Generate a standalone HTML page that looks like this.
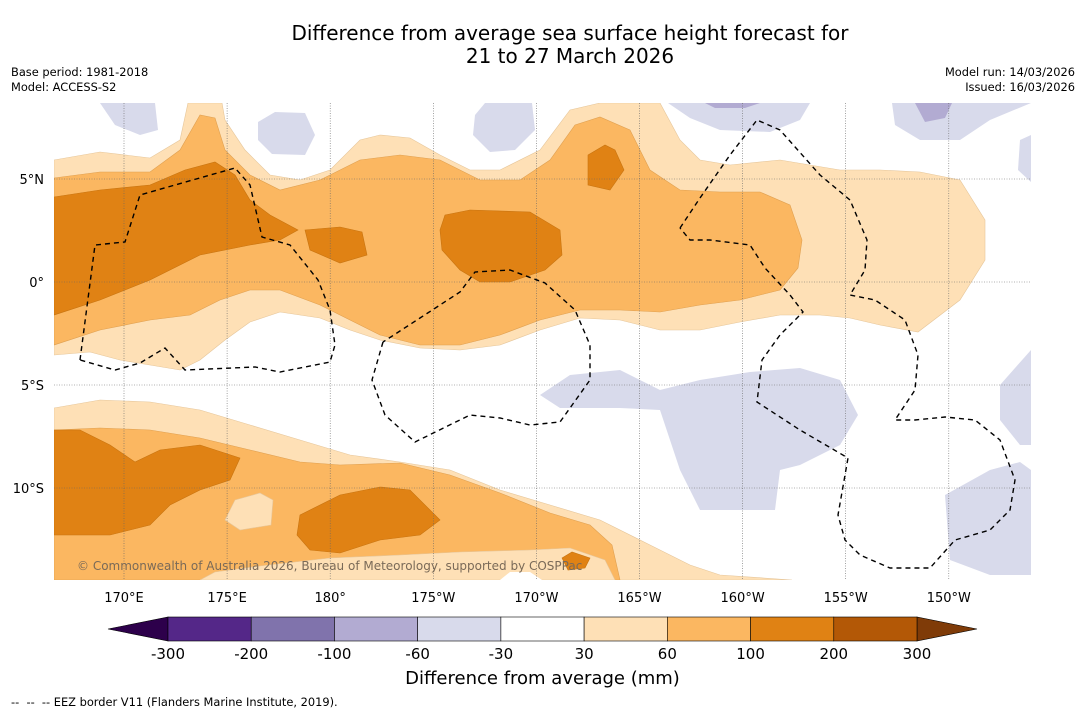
<!DOCTYPE html>
<html><head><meta charset="utf-8">
<style>
body{margin:0;background:#fff;font-family:"Liberation Sans","DejaVu Sans",sans-serif;}
#wrap{position:relative;width:1085px;height:713px;overflow:hidden;background:#fff}
.t{position:absolute;white-space:nowrap;color:#000}
</style></head><body>
<div id="wrap">
<div class="t" style="left:0;width:1140px;text-align:center;top:22px;font-size:20px;line-height:23px;font-family:'DejaVu Sans',sans-serif">Difference from average sea surface height forecast for<br>21 to 27 March 2026</div>
<div class="t" style="left:11px;top:65px;font-size:11.4px;line-height:15px;font-family:'DejaVu Sans',sans-serif">Base period: 1981-2018<br>Model: ACCESS-S2</div>
<div class="t" style="right:10px;top:65px;font-size:11.4px;line-height:15px;text-align:right;font-family:'DejaVu Sans',sans-serif">Model run: 14/03/2026<br>Issued: 16/03/2026</div>
<svg id="map" width="1085" height="713" style="position:absolute;left:0;top:0"></svg>
<div class="t" style="left:0;width:1085px;text-align:center;top:668px;font-size:18px;font-family:'DejaVu Sans',sans-serif">Difference from average (mm)</div>
<div class="t" style="left:11px;top:695px;font-size:11.4px;font-family:'DejaVu Sans',sans-serif">-- &nbsp;-- &nbsp;-- EEZ border V11 (Flanders Marine Institute, 2019).</div>
</div>
<script>
const lonTicks=["170°E","175°E","180°","175°W","170°W","165°W","160°W","155°W","150°W"];
const lonVals=[170,175,180,185,190,195,200,205,210];
const latTicks=["5°N","0°","5°S","10°S"];
const latVals=[5,0,-5,-10];
const cbLevels=["-300","-200","-100","-60","-30","30","60","100","200","300"];
const cbColors=["#542788","#8073ac","#b2abd2","#d8daeb","#ffffff","#fee0b6","#fbb761","#e08214","#b35806"];
const X0=54,X1=1031,Y0=103,Y1=580;
function x(lon){return 124+(lon-170)*20.62;}
function y(lat){return 282-lat*20.6;}
// contour polygons (map pixel space)
const lightOrangeN=[[54,160],[100,152],[150,158],[180,140],[188,103],[222,103],[225,120],[245,150],[270,175],[300,180],[330,170],[360,140],[380,135],[410,138],[440,155],[470,170],[500,170],[540,150],[570,110],[600,103],[660,103],[680,140],[700,160],[730,165],[780,160],[840,170],[880,170],[920,172],[960,180],[985,220],[985,260],[960,300],[918,332],[880,325],[850,318],[820,315],[780,315],[740,322],[700,330],[660,330],[620,320],[580,318],[540,330],[500,345],[460,350],[420,348],[380,340],[350,330],[320,318],[280,312],[250,322],[225,340],[200,360],[180,370],[150,365],[120,360],[90,352],[54,355]];
const midOrangeN=[[54,178],[100,172],[150,172],[180,150],[200,115],[215,118],[225,150],[250,175],[280,190],[320,180],[360,160],[400,155],[440,160],[480,180],[520,180],[550,160],[575,125],[600,117],[630,130],[650,170],[680,190],[720,192],[760,192],[790,205],[802,240],[798,268],[780,290],[740,300],[700,305],[660,312],[620,310],[580,310],[540,320],[500,335],[460,345],[420,345],[380,335],[350,320],[320,305],[280,290],[250,290],[220,300],[190,315],[150,320],[100,330],[54,345]];
const darkN=[[[54,197],[100,190],[150,185],[185,170],[215,162],[235,175],[250,200],[270,215],[298,230],[280,240],[250,245],[200,255],[150,280],[100,300],[54,315]],
[[305,230],[340,227],[362,232],[367,255],[340,263],[310,250]],
[[445,215],[470,210],[530,212],[560,230],[562,255],[545,270],[510,282],[480,282],[460,270],[442,250],[440,230]],
[[588,155],[605,145],[615,150],[624,170],[610,190],[588,185]]];
const lightOrangeS=[[54,408],[100,400],[150,402],[200,410],[250,425],[300,440],[350,455],[400,462],[450,470],[500,490],[550,505],[600,520],[650,545],[690,565],[720,575],[792,580],[54,580]];
const midOrangeS=[[54,430],[100,428],[150,430],[200,438],[250,450],[300,462],[340,465],[400,463],[450,475],[500,493],[550,513],[590,525],[612,545],[620,580],[54,580]];
const lightBottom=[[200,580],[215,572],[260,566],[330,558],[400,555],[460,552],[530,550],[570,548],[605,560],[615,580]];
const darkS=[[[54,430],[80,430],[110,445],[135,462],[160,450],[200,445],[240,458],[230,480],[200,490],[170,505],[150,525],[110,535],[80,535],[54,535]],
[[300,515],[340,495],[380,487],[410,490],[440,520],[420,535],[380,540],[340,553],[310,550],[297,535]],
[[562,558],[572,552],[590,558],[585,568],[568,570]]];
const whiteS=[[[500,580],[510,572],[530,572],[542,580]]];
const lightS2=[[[225,520],[235,500],[260,493],[273,500],[271,525],[240,530]]];
const purpleL=[[[100,103],[155,103],[158,130],[140,135],[115,125]],
[[258,122],[275,112],[305,113],[315,135],[305,155],[272,154],[258,140]],
[[475,115],[485,103],[532,103],[535,130],[515,150],[490,152],[473,135]],
[[668,103],[810,103],[800,120],[770,132],[720,130],[690,118]],
[[892,103],[1031,103],[990,120],[960,140],[920,140],[895,125]],
[[1020,140],[1031,135],[1031,182],[1018,170]],
[[540,395],[570,375],[620,370],[660,390],[700,380],[750,372],[800,368],[840,380],[858,415],[840,445],[800,465],[780,470],[775,510],[700,510],[680,470],[660,410],[620,408],[560,408]],
[[1000,385],[1031,350],[1031,445],[1020,445],[1000,420]],
[[945,495],[990,470],[1020,462],[1031,470],[1031,575],[990,575],[950,560]]];
const purpleM=[[[705,103],[760,103],[745,108],[715,108]],[[915,103],[952,103],[945,118],[925,122]]];
const eez=[[[80,360],[95,245],[125,242],[140,195],[175,185],[235,168],[250,185],[262,237],[290,245],[318,280],[330,310],[335,345],[330,362],[280,372],[255,367],[185,370],[165,348],[140,363],[115,370],[80,360]],
[[383,342],[372,380],[385,415],[415,442],[470,415],[500,418],[530,425],[560,422],[590,380],[590,345],[575,310],[545,283],[510,270],[475,272],[460,292],[420,318],[383,342]],
[[680,228],[700,198],[730,155],[757,120],[780,130],[820,175],[850,200],[867,240],[865,270],[850,295],[875,300],[905,320],[918,355],[915,390],[895,420],[915,420],[945,417],[975,420],[1000,440],[1015,480],[1010,510],[990,530],[955,540],[930,568],[890,568],[860,555],[845,540],[838,515],[848,458],[800,430],[757,402],[762,360],[780,335],[803,312],[790,295],[765,268],[750,245],[710,240],[690,240],[680,228]]];
const NS="http://www.w3.org/2000/svg";
const svg=document.getElementById('map');
function mk(t,a,p){const e=document.createElementNS(NS,t);for(const k in a)e.setAttribute(k,a[k]);(p||svg).appendChild(e);return e;}
const defs=mk('defs',{});const cp=mk('clipPath',{id:'c'},defs);mk('rect',{x:X0,y:Y0,width:X1-X0,height:Y1-Y0},cp);
const g=mk('g',{'clip-path':'url(#c)'});


function poly(pts,fill,name,stroke){const e=mk('polygon',{points:pts.map(p=>p.join(',')).join(' '),fill:fill,stroke:stroke||'none','stroke-width':0.6},g);return e;}
poly(lightOrangeN,'#fee0b6','contour-30-60-north','#e6c69a');
poly(lightOrangeS,'#fee0b6','contour-30-60-south','#e6c69a');
poly(midOrangeN,'#fbb761','contour-60-100-north','#e0a050');
poly(midOrangeS,'#fbb761','contour-60-100-south','#e0a050');
poly(lightBottom,'#fee0b6','contour-30-60-bottom','#e6c69a');
whiteS.forEach(p=>poly(p,'#ffffff','contour-white'));
darkN.concat(darkS).forEach(p=>poly(p,'#e08214','contour-100-200','#c87410'));
lightS2.forEach(p=>poly(p,'#fee0b6','contour-30-60-patch','#e6c69a'));
purpleL.forEach(p=>poly(p,'#d8daeb','contour-neg30-neg60'));
purpleM.forEach(p=>poly(p,'#b2abd2','contour-neg60-neg100'));
// grid
lonVals.forEach((v,i)=>{const l=mk('line',{x1:x(v),x2:x(v),y1:Y0,y2:Y1,stroke:'#666','stroke-width':0.6,'stroke-dasharray':'1,1.5'});
const t=mk('text',{x:x(v),y:602,'font-size':13,'text-anchor':'middle','font-family':'DejaVu Sans, sans-serif'});t.textContent=lonTicks[i];});
latVals.forEach((v,i)=>{const l=mk('line',{x1:X0,x2:X1,y1:y(v),y2:y(v),stroke:'#666','stroke-width':0.6,'stroke-dasharray':'1,1.5'});
const t=mk('text',{x:44,y:y(v)+5,'font-size':13,'text-anchor':'end','font-family':'DejaVu Sans, sans-serif'});t.textContent=latTicks[i];});
// eez
eez.forEach(p=>{const e=mk('polyline',{points:p.map(q=>q.join(',')).join(' '),fill:'none',stroke:'#000','stroke-width':1.4,'stroke-dasharray':'5,4'});});
const wm=mk('text',{x:77,y:570,'font-size':12,fill:'#7a6a58','font-family':'DejaVu Sans, sans-serif'});wm.textContent='© Commonwealth of Australia 2026, Bureau of Meteorology, supported by COSPPac';


// colorbar
const cbX0=168,cbX1=917,cbY=617,cbH=24,bw=(cbX1-cbX0)/cbColors.length;
const lt=mk('polygon',{points:`108,${cbY+cbH/2} ${cbX0},${cbY} ${cbX0},${cbY+cbH}`,fill:'#2d004b',stroke:'#000','stroke-width':0.6});


const rt=mk('polygon',{points:`977,${cbY+cbH/2} ${cbX1},${cbY} ${cbX1},${cbY+cbH}`,fill:'#7f3b08',stroke:'#000','stroke-width':0.6});


cbColors.forEach((c,i)=>{const r=mk('rect',{x:cbX0+i*bw,y:cbY,width:bw,height:cbH,fill:c,stroke:'#000','stroke-width':0.6});});
cbLevels.forEach((s,i)=>{const t=mk('text',{x:cbX0+i*bw,y:659,'font-size':15,'text-anchor':'middle','font-family':'DejaVu Sans, sans-serif'});t.textContent=s;});
</script>
</body></html>
